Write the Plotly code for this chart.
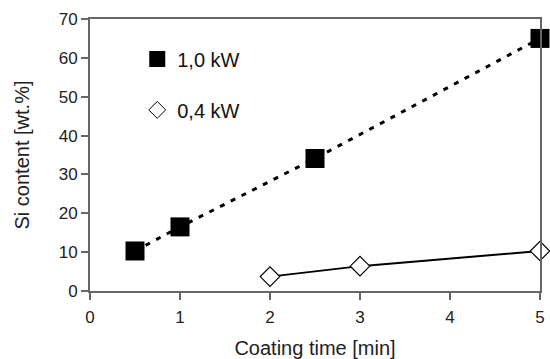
import plotly.graph_objects as go

time_10 = [0.5, 1, 2.5, 5]
si_10 = [10.3, 16.5, 34.1, 65.0]
time_04 = [2, 3, 5]
si_04 = [3.7, 6.4, 10.3]
label_10 = "1,0 kW"
label_04 = "0,4 kW"

fig = go.Figure()
fig.add_trace(go.Scatter(x=time_10, y=si_10, mode="lines+markers", showlegend=False,
                         line=dict(color="black", width=3, dash="5px,7px"),
                         marker=dict(symbol="square", size=19, color="black")))
fig.add_trace(go.Scatter(x=time_04, y=si_04, mode="lines+markers", showlegend=False,
                         line=dict(color="black", width=2),
                         marker=dict(symbol="diamond", size=15, color="white",
                                     line=dict(color="black", width=1.2))))
fig.add_trace(go.Scatter(x=[None], y=[None], mode="markers", name=label_10, legendgroup="a",
                         marker=dict(symbol="square", size=18, color="black")))
fig.add_trace(go.Scatter(x=[None], y=[None], mode="markers", name=label_04, legendgroup="b",
                         marker=dict(symbol="diamond", size=13, color="white",
                                     line=dict(color="black", width=1))))

font = "Liberation Sans, Arial, sans-serif"
fig.update_layout(
    width=550, height=359,
    margin=dict(l=90, r=10, t=19, b=68),
    paper_bgcolor="white", plot_bgcolor="white",
    font=dict(family=font, size=17, color="#222"),
    showlegend=True,
    legend=dict(x=0.105, y=0.925, xanchor="left", yanchor="top",
                font=dict(size=20, color="#111"), bgcolor="rgba(0,0,0,0)",
                traceorder="grouped", tracegroupgap=22, itemsizing="trace", itemwidth=30),
    xaxis=dict(range=[0, 5], tickvals=[0, 1, 2, 3, 4, 5], showgrid=False, zeroline=False,
               showline=True, linecolor="#666", linewidth=2, mirror=True,
               ticks="outside", ticklen=7, tickcolor="#666", tickwidth=1.5,
               ticklabelstandoff=3, automargin=False,
               title=dict(text="Coating time [min]", font=dict(size=20), standoff=22),
               tickfont=dict(size=17)),
    yaxis=dict(range=[0, 70], tickvals=[0, 10, 20, 30, 40, 50, 60, 70], showgrid=False,
               zeroline=False, showline=True, linecolor="#666", linewidth=2, mirror=True,
               ticks="outside", ticklen=7, tickcolor="#666", tickwidth=1.5,
               automargin=False,
               title=dict(text="Si content [wt.%]", font=dict(size=20), standoff=24),
               tickfont=dict(size=17)),
)
fig.update_traces(cliponaxis=False)
fig.write_html("out.html")
